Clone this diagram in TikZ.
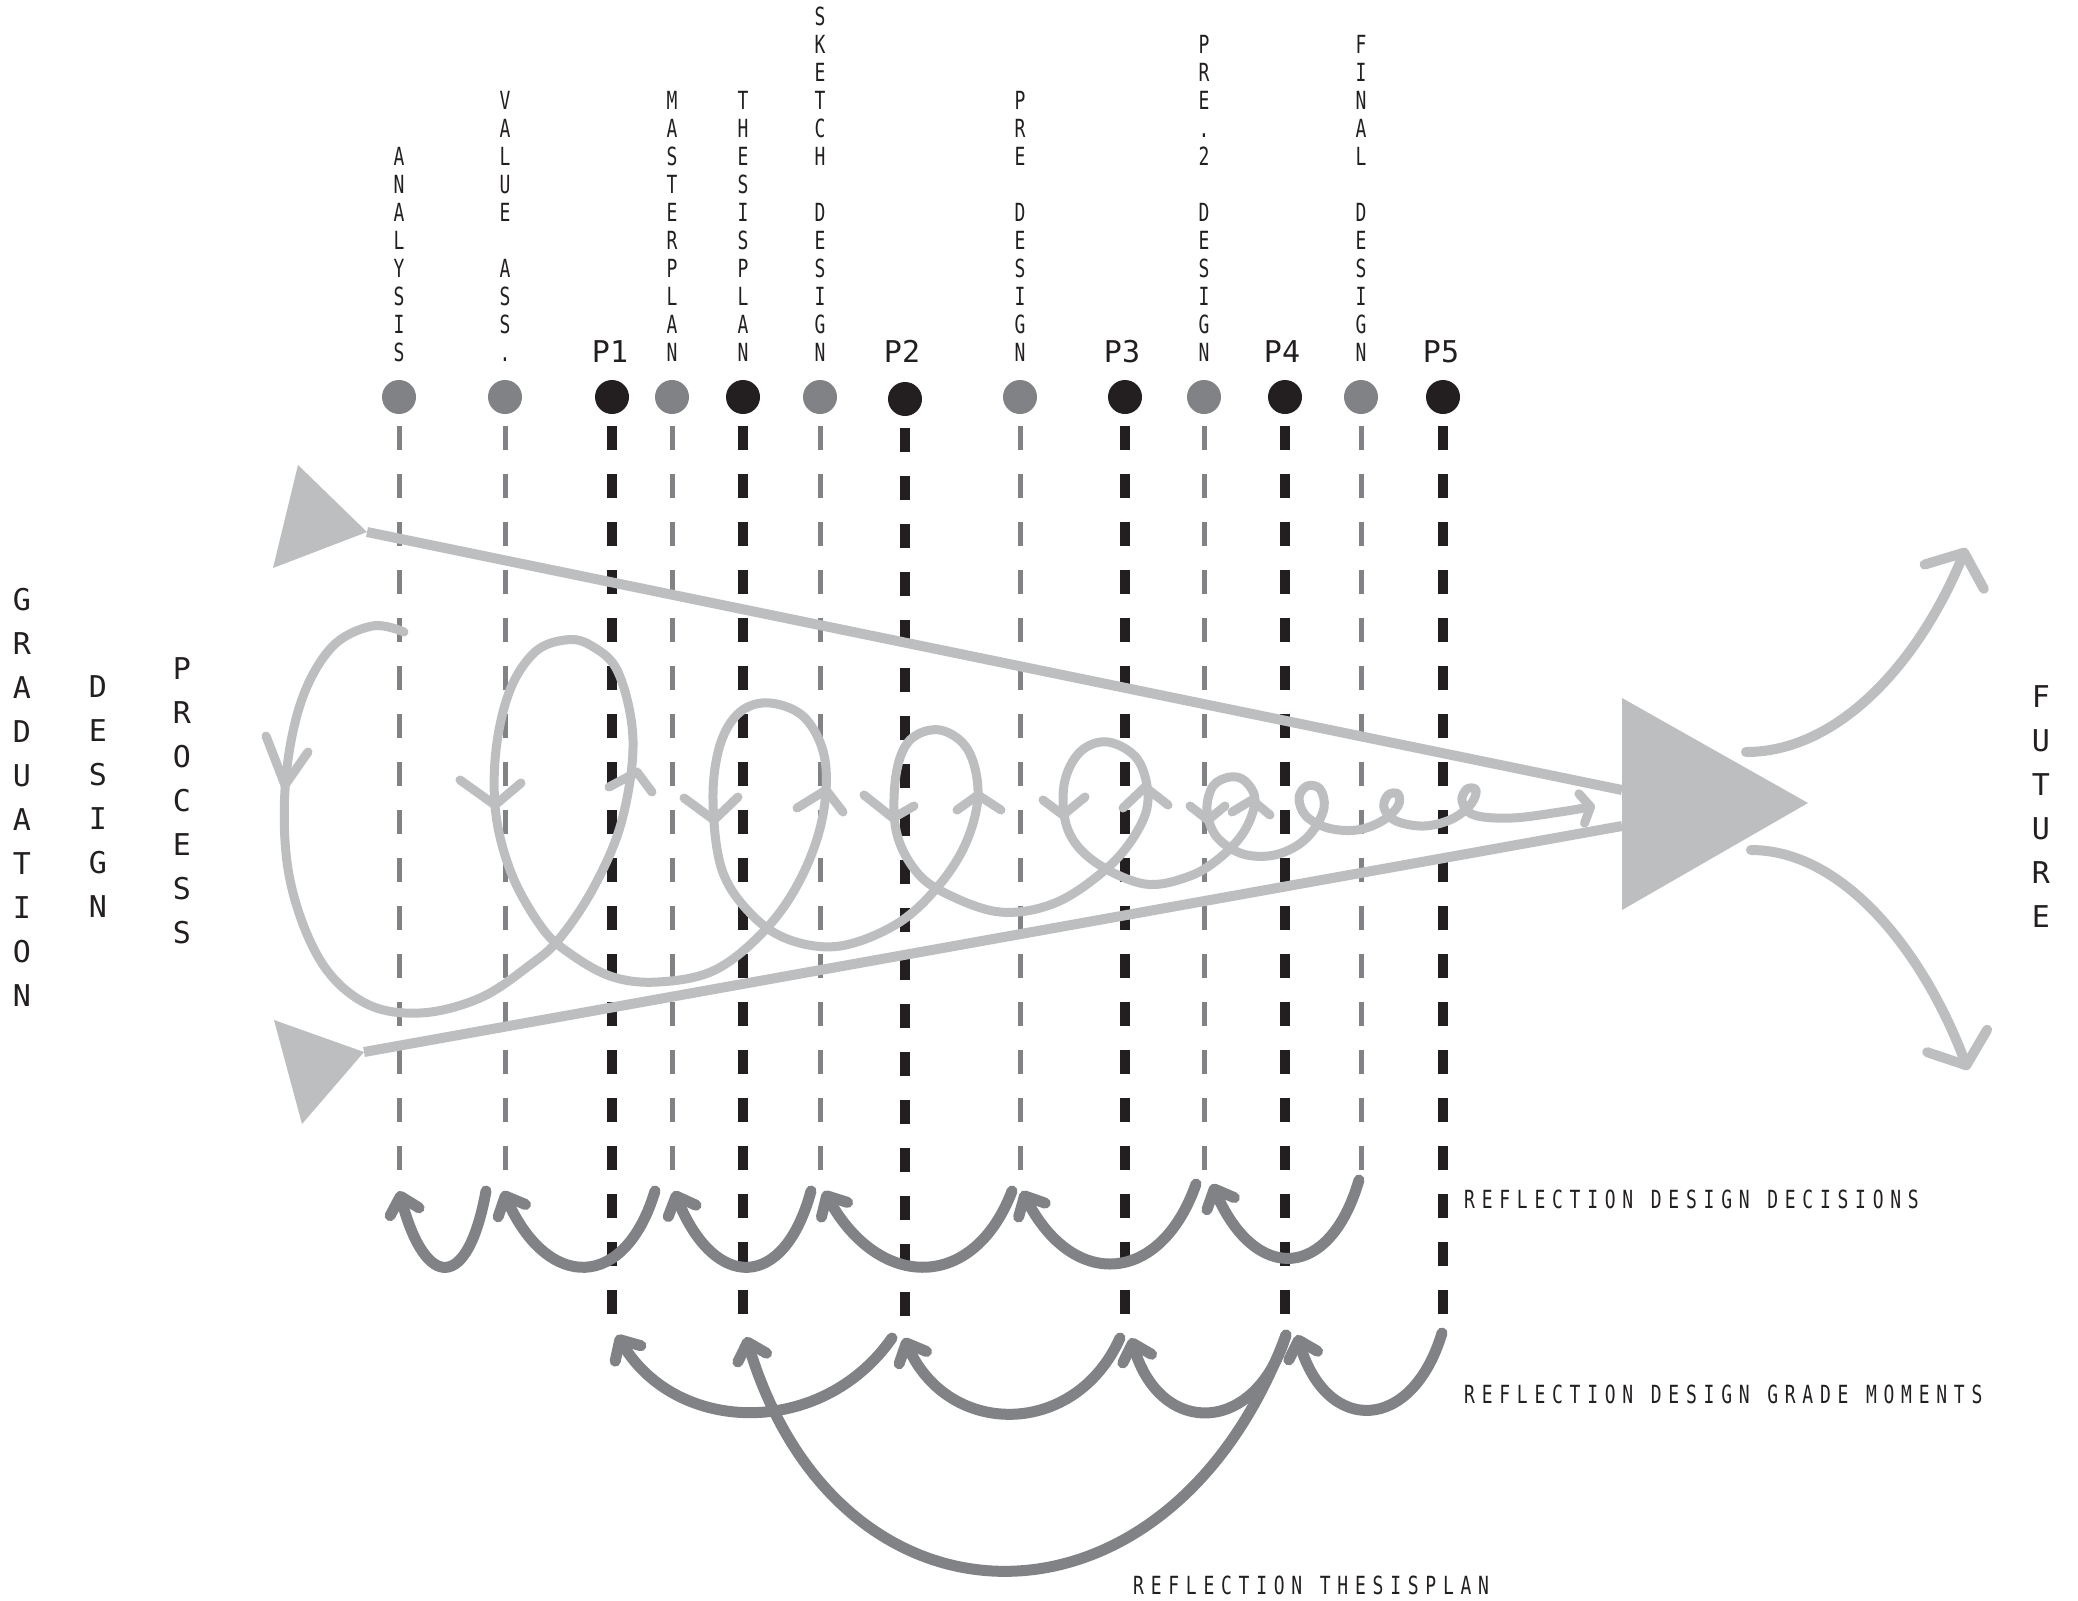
\documentclass[tikz,border=0pt]{standalone}
\usepackage{fontspec}
\setmainfont{DejaVu Sans Mono}
\newfontfamily\narrowfont[FakeStretch=0.72]{DejaVu Sans Mono}
\newfontfamily\rowfont[FakeStretch=0.72,LetterSpace=27]{DejaVu Sans Mono}
\usepackage{tikz}
\usetikzlibrary{arrows.meta}

\definecolor{lightgrey}{RGB}{188,190,192}
\definecolor{midgrey}{RGB}{128,130,133}
\definecolor{inkblack}{RGB}{35,31,32}

\tikzset{
  stepdot/.style={circle, inner sep=0pt, minimum size=34pt},
  greydot/.style={stepdot, fill=midgrey},
  blackdot/.style={stepdot, fill=inkblack},
  steplabel/.style={anchor=south, inner sep=0pt, align=center, text=inkblack, font=\narrowfont\fontsize{25}{28}\selectfont},
  plabel/.style={anchor=base, inner sep=0pt, text=inkblack, font=\fontsize{30}{30}\selectfont},
  sidelabel/.style={anchor=south, inner sep=0pt, align=center, text=inkblack, font=\fontsize{30}{44}\selectfont},
  rowlabel/.style={anchor=west, inner sep=0pt, text=inkblack, font=\rowfont\fontsize{25}{25}\selectfont},
  greyline/.style={midgrey, line width=5pt, dash pattern=on 24pt off 24pt, shorten <=12pt},
  blackline/.style={inkblack, line width=10pt, dash pattern=on 24pt off 24pt, shorten <=12pt},
  funnel/.style={lightgrey, line width=10pt},
  coil/.style={lightgrey, line width=9pt, line cap=round, line join=round},
  reflect/.style={midgrey, line width=11pt, line cap=round, -{Straight Barb[length=16pt,width=30pt,round]}},
  future/.style={lightgrey, line width=10pt, line cap=round, -{Straight Barb[length=26pt,width=64pt,round]}}
}

\begin{document}
\begin{tikzpicture}[x=1pt, y=-1pt]
  \fill[white] (0,0) rectangle (2078,1601);
  \useasboundingbox (0,0) rectangle (2078,1601);

  % process moments
  \node[greydot] (analysis) at (399, 397) {};
  \node[greydot] (value) at (505, 397) {};
  \node[blackdot] (p1) at (612, 397) {};
  \node[greydot] (masterplan) at (672, 397) {};
  \node[blackdot] (thesis) at (743, 397) {};
  \node[greydot] (sketch) at (820, 397) {};
  \node[blackdot] (p2) at (905, 399) {};
  \node[greydot] (pre) at (1020, 397) {};
  \node[blackdot] (p3) at (1125, 397) {};
  \node[greydot] (pretwo) at (1204, 397) {};
  \node[blackdot] (p4) at (1285, 397) {};
  \node[greydot] (final) at (1361, 397) {};
  \node[blackdot] (p5) at (1443, 397) {};

  \node[steplabel] (analysis-lbl) at (399, 362) {A\\N\\A\\L\\Y\\S\\I\\S};
  \node[steplabel] (value-lbl) at (505, 362) {V\\A\\L\\U\\E\\\mbox{}\\A\\S\\S\\.};
  \node[plabel] (p1-lbl) at (610, 362) {P1};
  \node[steplabel] (masterplan-lbl) at (672, 362) {M\\A\\S\\T\\E\\R\\P\\L\\A\\N};
  \node[steplabel] (thesis-lbl) at (743, 362) {T\\H\\E\\S\\I\\S\\P\\L\\A\\N};
  \node[steplabel] (sketch-lbl) at (820, 362) {S\\K\\E\\T\\C\\H\\\mbox{}\\D\\E\\S\\I\\G\\N};
  \node[plabel] (p2-lbl) at (902, 362) {P2};
  \node[steplabel] (pre-lbl) at (1020, 362) {P\\R\\E\\\mbox{}\\D\\E\\S\\I\\G\\N};
  \node[plabel] (p3-lbl) at (1122, 362) {P3};
  \node[steplabel] (pretwo-lbl) at (1204, 362) {P\\R\\E\\.\\2\\\mbox{}\\D\\E\\S\\I\\G\\N};
  \node[plabel] (p4-lbl) at (1282, 362) {P4};
  \node[steplabel] (final-lbl) at (1361, 362) {F\\I\\N\\A\\L\\\mbox{}\\D\\E\\S\\I\\G\\N};
  \node[plabel] (p5-lbl) at (1441, 362) {P5};

  \node[sidelabel] (graduation) at (22, 1007) {G\\R\\A\\D\\U\\A\\T\\I\\O\\N};
  \node[sidelabel] (design) at (98, 918) {D\\E\\S\\I\\G\\N};
  \node[sidelabel] (process) at (182, 944) {P\\R\\O\\C\\E\\S\\S};
  \node[sidelabel] (future) at (2041, 928) {F\\U\\T\\U\\R\\E};

  % ends of the dashed lines
  \foreach \n/\x in {analysis/399, value/505, masterplan/672, sketch/820, pre/1020, pretwo/1204, final/1361}
    \coordinate (\n-end) at (\x, 1170);
  \foreach \n/\x in {p1/612, thesis/743, p2/905, p3/1125, p4/1285, p5/1443}
    \coordinate (\n-end) at (\x, 1322);

  \foreach \n in {analysis, value, masterplan, sketch, pre, pretwo, final}
    \draw[greyline] (\n.south) -- (\n-end);
  \foreach \n in {p1, thesis, p2, p3, p4, p5}
    \draw[blackline] (\n.south) -- (\n-end);

  % funnel
  \coordinate (top-in) at (367, 532);
  \coordinate (bot-in) at (364, 1052);
  \coordinate (top-out) at (1622, 790);
  \coordinate (bot-out) at (1622, 826);
  \fill[lightgrey] (298, 465) -- (top-in) -- (273, 568) -- cycle;
  \fill[lightgrey] (274, 1020) -- (bot-in) -- (302, 1124) -- cycle;
  \draw[funnel] (top-in) -- (top-out);
  \draw[funnel] (bot-in) -- (bot-out);

  % the coil
  \draw[coil, -{Straight Barb[length=9pt,width=30pt,round]}] plot[smooth, tension=0.6] coordinates {
    (404,632) (372,626) (331,648) (300,705) (285,790) (290,880) (320,960)
    (365,1003) (420,1013) (480,998) (530,965) (560,938) (595,885) (622,820)
    (633,740) (618,672) (590,645) (565,640) (535,652) (510,690) (496,750)
    (496,815) (512,875) (540,925) (565,950) (610,976) (658,982) (715,970)
    (765,930) (800,880) (822,820) (825,760) (805,718) (770,703) (740,712)
    (720,745) (713,800) (722,870) (752,915) (790,940) (840,946) (895,925)
    (935,890) (965,845) (978,795) (968,750) (940,730) (910,740) (896,775)
    (896,830) (915,870) (945,893) (1000,912) (1055,903) (1105,870) (1135,835)
    (1148,800) (1138,760) (1108,742) (1080,752) (1064,785) (1068,830) (1095,862)
    (1145,884) (1190,876) (1222,856) (1245,830) (1255,800) (1245,781) (1230,777)
    (1213,786) (1207,810) (1216,836) (1240,853) (1268,856) (1293,848) (1312,832)
    (1324,808) (1320,789) (1307,786) (1299,798) (1306,816) (1328,828) (1357,830)
    (1382,821) (1398,806) (1398,794) (1388,795) (1384,808) (1396,821) (1424,826)
    (1452,819) (1471,804) (1476,790) (1467,789) (1462,801) (1474,815) (1512,818)
    (1560,812) (1595,806)};
  \foreach \tx/\ty/\ax/\ay/\bx/\by in {
      285/785/266/736/308/752, 495/805/460/780/521/783, 714/820/684/798/738/797,
      893/818/864/795/914/806, 1063/815/1043/800/1085/797, 1208/820/1190/806/1225/806,
      637/772/609/787/652/792, 826/790/797/808/843/812, 978/795/957/810/1001/810,
      1145/787/1123/808/1168/805, 1252/800/1232/812/1270/815}
    \draw[coil] (\ax,\ay) -- (\tx,\ty) -- (\bx,\by);

  % big arrow and the future
  \fill[lightgrey] (1622, 698) -- (1808, 803) -- (1622, 910) -- cycle;
  \coordinate (up-start) at (1746, 752);
  \coordinate (up-end) at (1966, 548);
  \coordinate (down-start) at (1751, 850);
  \coordinate (down-end) at (1968, 1070);
  \draw[future] (up-start) .. controls (1840, 752) and (1920, 660) .. (up-end);
  \draw[future] (down-start) .. controls (1845, 850) and (1925, 955) .. (down-end);

  % reflection points
  \coordinate (analysis-r) at (399, 1191);
  \coordinate (value-r) at (503, 1191);
  \coordinate (masterplan-r) at (674, 1191);
  \coordinate (sketch-r) at (824, 1191);
  \coordinate (pre-r) at (1022, 1191);
  \coordinate (pretwo-r) at (1212, 1184);
  \coordinate (final-r) at (1359, 1180);
  \coordinate (p1-r) at (617, 1335);
  \coordinate (thesis-r) at (746, 1337);
  \coordinate (p2-r) at (904, 1338);
  \coordinate (p3-r) at (1131, 1338);
  \coordinate (p4-r) at (1286, 1335);
  \coordinate (p5-r) at (1442, 1333);

  % reflection design decisions
  \draw[reflect] ([xshift=-17pt]value-r) .. controls +(-18,100) and +(27,100) .. (analysis-r);
  \draw[reflect] ([xshift=-19pt]masterplan-r) .. controls +(-30,100) and +(45,100) .. (value-r);
  \draw[reflect] ([xshift=-13pt]sketch-r) .. controls +(-27,100) and +(41,100) .. (masterplan-r);
  \draw[reflect] ([xshift=-10pt]pre-r) .. controls +(-38,100) and +(56,100) .. (sketch-r);
  \draw[reflect] ([xshift=-16pt]pretwo-r) .. controls +(-35,100) and +(52,100) .. (pre-r);
  \draw[reflect] (final-r) .. controls +(-29,100) and +(44,100) .. (pretwo-r);

  % reflection design grade moments
  \draw[reflect] ([xshift=-12pt]p2-r) .. controls +(-70,100) and +(60,100) .. (p1-r);
  \draw[reflect] ([xshift=-11pt]p3-r) .. controls +(-45,100) and +(45,100) .. (p2-r);
  \draw[reflect] (p4-r) .. controls +(-30,100) and +(30,100) .. (p3-r);
  \draw[reflect] (p5-r) .. controls +(-30,100) and +(30,100) .. ([xshift=11pt]p4-r);

  % reflection thesisplan
  \draw[reflect] (p4-r) .. controls (1170, 1648) and (840, 1648) .. (thesis-r);

  \node[rowlabel] (decisions) at (1464, 1199) {REFLECTION DESIGN DECISIONS};
  \node[rowlabel] (moments) at (1464, 1394) {REFLECTION DESIGN GRADE MOMENTS};
  \node[rowlabel] (thesisplan) at (1133, 1585) {REFLECTION THESISPLAN};
\end{tikzpicture}
\end{document}
